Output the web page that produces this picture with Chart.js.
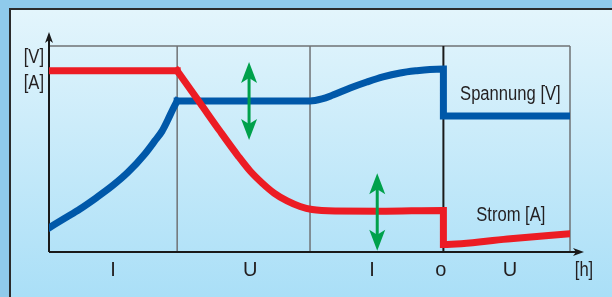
<!DOCTYPE html>
<html><head><meta charset="utf-8">
<script src="https://cdn.jsdelivr.net/npm/chart.js@4.4.1/dist/chart.umd.min.js"></script>
<style>
html,body{margin:0;padding:0;width:612px;height:297px;overflow:hidden;background:#8fcaeb;}
#panel{position:absolute;left:9px;top:8px;width:603px;height:289px;border-left:2px solid #2b2b2b;border-top:2px solid #2b2b2b;box-sizing:border-box;background:linear-gradient(#e3f5fc,#aadff7);}
canvas{position:absolute;left:0;top:0;}
</style></head><body>
<div id="panel"></div>
<canvas id="c" width="612" height="297"></canvas>
<script>
// ---- data (time and level in % of the charging cycle) ----
const phaseBounds = [24.6, 50.1, 75.7, 100];
const phaseLabels = ['I', 'U', 'I', 'o', 'U'];
const phaseLabelPos = [12.3, 38.6, 62.0, 75.2, 88.5];
const timeUnit = '[h]';
const yLabels = ['[A]', '[V]'];
const yLabelPos = [79.1, 91.7];
const seriesNames = ['Spannung [V]', 'Strom [A]'];

// Spannung: ramp (I phase) up to the corner, then hold / rise / drop
const voltageX = [0, 3.1, 5.95, 9.0, 12.1, 15.2, 18.4, 20.3, 21.7, 22.8, 23.8, 24.6, 50.1, 52.4, 54.5, 57.8, 61.0, 64.1, 67.4, 70.6, 73.1, 75.7, 75.7, 100];
const voltageY = [11.7, 16.5, 20.9, 26.2, 32.0, 38.8, 47.6, 53.9, 58.7, 64.1, 69.4, 73.3, 73.3, 74.3, 76.2, 79.6, 82.5, 85.0, 86.9, 88.0, 88.6, 88.8, 66.0, 66.0];
const voltageCorner = 11;   // index of the sharp corner

// Strom: constant, then tapering, then drop and slow rise
const currentX = [0, 24.6, 29.0, 32.8, 36.3, 38.6, 40.9, 43.2, 45.7, 48.2, 50.5, 54.9, 63.5, 75.7, 75.7, 88.0, 100];
const currentY = [88.0, 88.0, 72.3, 58.7, 46.6, 39.3, 33.5, 28.6, 24.8, 22.1, 20.6, 19.9, 19.8, 20.2, 3.6, 6.3, 8.9];
const currentCorner = 1;

const arrowX = [38.4, 63.0];
const arrowTop = [92.2, 38.2];
const arrowBottom = [54.4, 0.6];

const FONT = '"Liberation Sans", Arial, sans-serif';
const TEXT = '#231f20';
const SQUEEZE = 0.83;

function pts(xs, ys, from, to) {
  const out = [];
  for (let i = from; i <= to; i++) out.push({x: xs[i], y: ys[i]});
  return out;
}

function head(ctx, tx, ty, dx, dy, len, half, notch) {
  const px = -dy, py = dx;
  ctx.beginPath();
  ctx.moveTo(tx, ty);
  ctx.lineTo(tx - dx * len + px * half, ty - dy * len + py * half);
  ctx.lineTo(tx - dx * notch, ty - dy * notch);
  ctx.lineTo(tx - dx * len - px * half, ty - dy * len - py * half);
  ctx.closePath();
  ctx.fill();
}

function narrowText(ctx, str, x, y, align) {
  ctx.save();
  ctx.translate(x, y);
  ctx.scale(SQUEEZE, 1);
  ctx.textAlign = align;
  ctx.textBaseline = 'alphabetic';
  ctx.fillText(str, 0, 0);
  ctx.restore();
}

const overlay = {
  id: 'overlay',
  beforeDatasetsDraw(chart) {
    const {ctx, chartArea: a, scales: {x, y}} = chart;
    ctx.save();
    ctx.lineCap = 'butt';
    ctx.strokeStyle = '#6f7275'; ctx.lineWidth = 1.5;
    ctx.beginPath(); ctx.moveTo(a.left, a.top); ctx.lineTo(a.right, a.top); ctx.stroke();
    phaseBounds.forEach((v, i) => {
      const px = x.getPixelForValue(v);
      ctx.strokeStyle = i === 2 ? '#1a1a1a' : '#6f7275';
      ctx.lineWidth = i === 2 ? 2 : 1.5;
      ctx.beginPath(); ctx.moveTo(px, a.top); ctx.lineTo(px, a.bottom); ctx.stroke();
    });
    ctx.strokeStyle = '#1a1a1a'; ctx.fillStyle = '#1a1a1a'; ctx.lineWidth = 2;
    ctx.beginPath(); ctx.moveTo(a.left, a.bottom); ctx.lineTo(a.right + 8, a.bottom); ctx.stroke();
    ctx.beginPath(); ctx.moveTo(a.left, a.bottom); ctx.lineTo(a.left, a.top - 6); ctx.stroke();
    head(ctx, a.right + 14, a.bottom, 1, 0, 11, 4, 8);
    head(ctx, a.left, a.top - 14, 0, -1, 11, 4, 8);
    ctx.fillStyle = TEXT;
    ctx.font = '20px ' + FONT;
    narrowText(ctx, timeUnit, a.right + 14, a.bottom + 24, 'center');
    yLabels.forEach((t, i) => narrowText(ctx, t, a.left - 5, y.getPixelForValue(yLabelPos[i]), 'right'));
    ctx.restore();
  },
  afterDatasetsDraw(chart) {
    const {ctx, scales: {x, y}} = chart;
    ctx.save();
    ctx.fillStyle = '#00a14b'; ctx.strokeStyle = '#00a14b'; ctx.lineWidth = 3;
    arrowX.forEach((v, i) => {
      const px = x.getPixelForValue(v);
      const t = y.getPixelForValue(arrowTop[i]);
      const b = y.getPixelForValue(arrowBottom[i]);
      ctx.beginPath(); ctx.moveTo(px, t + 12); ctx.lineTo(px, b - 12); ctx.stroke();
      head(ctx, px, t, 0, -1, 21, 8, 16);
      head(ctx, px, b, 0, 1, 21, 8, 16);
    });
    ctx.fillStyle = TEXT;
    ctx.font = '20px ' + FONT;
    narrowText(ctx, seriesNames[0], x.getPixelForValue(78.9), y.getPixelForValue(73.8), 'left');
    narrowText(ctx, seriesNames[1], x.getPixelForValue(82.0), y.getPixelForValue(15.0), 'left');
    ctx.restore();
  }
};

const lineStyle = (color) => ({borderColor: color, borderWidth: 7, pointRadius: 0, cubicInterpolationMode: 'monotone',
  borderJoinStyle: 'miter', borderCapStyle: 'square', fill: false});
const RED = '#ec1c24', BLUE = '#0058a9';

new Chart(document.getElementById('c'), {
  type: 'line',
  data: {
    datasets: [
      {label: seriesNames[1], data: pts(currentX, currentY, 0, currentCorner), ...lineStyle(RED)},
      {label: seriesNames[1], data: pts(currentX, currentY, currentCorner, currentX.length - 1), ...lineStyle(RED)},
      {label: seriesNames[0], data: pts(voltageX, voltageY, 0, voltageCorner), ...lineStyle(BLUE)},
      {label: seriesNames[0], data: pts(voltageX, voltageY, voltageCorner, voltageX.length - 1), ...lineStyle(BLUE)}
    ]
  },
  options: {
    responsive: false, animation: false, devicePixelRatio: 1,
    layout: {padding: {top: 46, right: 42, left: 0, bottom: 0}},
    plugins: {legend: {display: false}, tooltip: {enabled: false}},
    scales: {
      x: {
        type: 'linear', min: 0, max: 100,
        grid: {display: false, drawTicks: false}, border: {display: false},
        afterBuildTicks: s => { s.ticks = phaseLabelPos.map(v => ({value: v})); },
        ticks: {autoSkip: false, maxRotation: 0, padding: 6, color: TEXT, font: {family: FONT, size: 20},
          callback: (v, i) => phaseLabels[i]},
        afterFit: s => { s.height = 45; }
      },
      y: {
        type: 'linear', min: 0, max: 100,
        grid: {display: false, drawTicks: false}, border: {display: false},
        ticks: {display: false},
        afterFit: s => { s.width = 49; }
      }
    }
  },
  plugins: [overlay]
});
</script>
</body></html>
